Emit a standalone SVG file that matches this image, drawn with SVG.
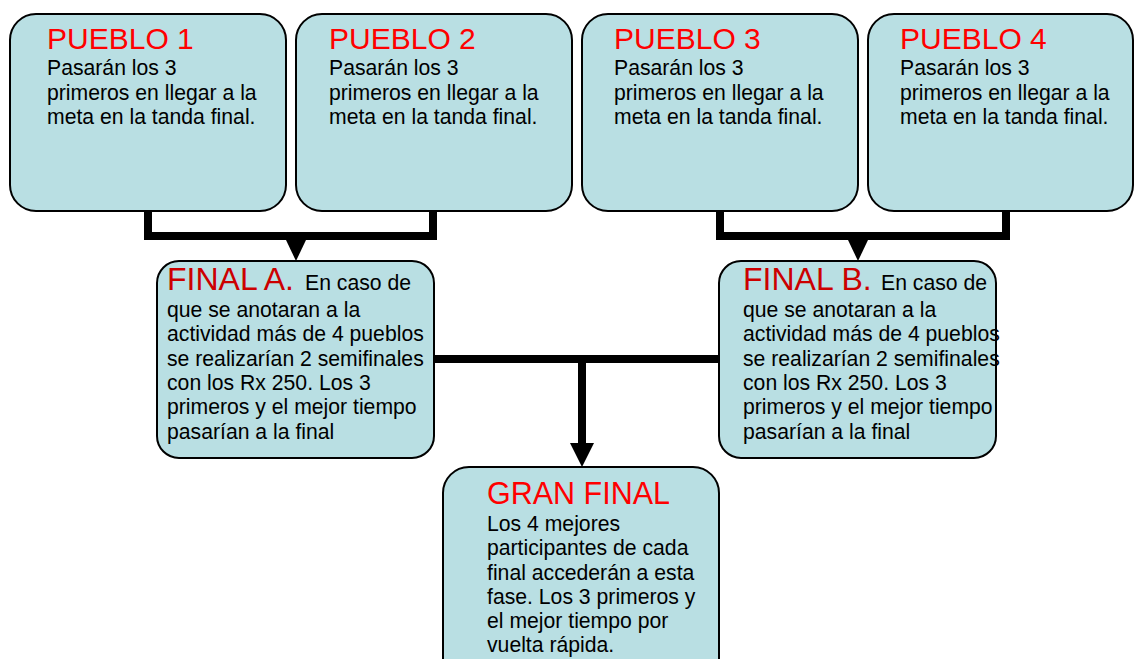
<svg xmlns="http://www.w3.org/2000/svg" width="1134" height="659" viewBox="0 0 1134 659">
<style>
.box{fill:#b9dfe3;stroke:#000;stroke-width:2}
.t{font-family:"Liberation Sans",Arial,sans-serif;fill:#000;font-size:21.2px}
.h{font-family:"Liberation Sans",Arial,sans-serif;fill:#ff0000;font-size:30px}
.g{font-size:30.5px}
.hd{font-family:"Liberation Sans",Arial,sans-serif;fill:#cc0000;font-size:32px}
.c{fill:none;stroke:#000;stroke-width:8}
</style>
<rect width="1134" height="659" fill="#fff"/>
<g id="connectors">
<polyline class="c" points="148,211 148,236 433,236 433,211"/>
<polygon points="286,240 306,240 296,261" fill="#000"/>
<polyline class="c" points="720,211 720,236 1006,236 1006,211"/>
<polygon points="848,240 868,240 858,261" fill="#000"/>
<line class="c" x1="434" y1="359" x2="719" y2="359"/>
<line class="c" x1="582" y1="359" x2="582" y2="444"/>
<polygon points="570,443 594,443 582,467" fill="#000"/>
</g>
<g id="pueblo1">
<rect class="box" x="10" y="14" width="276" height="197" rx="26"/>
<text class="h" x="47" y="49">PUEBLO 1</text>
<text class="t" x="47" y="75">Pasarán los 3</text>
<text class="t" x="47" y="100">primeros en llegar a la</text>
<text class="t" x="47" y="124">meta en la tanda final.</text>
</g>
<g id="pueblo2">
<rect class="box" x="296" y="14" width="276" height="197" rx="26"/>
<text class="h" x="329" y="49">PUEBLO 2</text>
<text class="t" x="329" y="75">Pasarán los 3</text>
<text class="t" x="329" y="100">primeros en llegar a la</text>
<text class="t" x="329" y="124">meta en la tanda final.</text>
</g>
<g id="pueblo3">
<rect class="box" x="582" y="14" width="276" height="197" rx="26"/>
<text class="h" x="614" y="49">PUEBLO 3</text>
<text class="t" x="614" y="75">Pasarán los 3</text>
<text class="t" x="614" y="100">primeros en llegar a la</text>
<text class="t" x="614" y="124">meta en la tanda final.</text>
</g>
<g id="pueblo4">
<rect class="box" x="868" y="14" width="265" height="197" rx="26"/>
<text class="h" x="900" y="49">PUEBLO 4</text>
<text class="t" x="900" y="75">Pasarán los 3</text>
<text class="t" x="900" y="100">primeros en llegar a la</text>
<text class="t" x="900" y="124">meta en la tanda final.</text>
</g>
<g id="finalA">
<rect class="box" x="157" y="261" width="277" height="197" rx="22"/>
<text class="hd" x="167" y="290">FINAL A.</text>
<text class="t" x="305" y="290">En caso de</text>
<text class="t" x="167" y="317">que se anotaran a la</text>
<text class="t" x="167" y="341">actividad más de 4 pueblos</text>
<text class="t" x="167" y="366">se realizarían 2 semifinales</text>
<text class="t" x="167" y="390">con los Rx 250. Los 3</text>
<text class="t" x="167" y="414">primeros y el mejor tiempo</text>
<text class="t" x="167" y="439">pasarían a la final</text>
</g>
<g id="finalB">
<rect class="box" x="719" y="261" width="277" height="197" rx="22"/>
<text class="hd" x="743" y="290">FINAL B.</text>
<text class="t" x="881" y="290">En caso de</text>
<text class="t" x="743" y="317">que se anotaran a la</text>
<text class="t" x="743" y="341">actividad más de 4 pueblos</text>
<text class="t" x="743" y="366">se realizarían 2 semifinales</text>
<text class="t" x="743" y="390">con los Rx 250. Los 3</text>
<text class="t" x="743" y="414">primeros y el mejor tiempo</text>
<text class="t" x="743" y="439">pasarían a la final</text>
</g>
<g id="granFinal">
<rect class="box" x="443" y="467" width="276" height="220" rx="26"/>
<text class="h g" x="487" y="504">GRAN FINAL</text>
<text class="t" x="487" y="531">Los 4 mejores</text>
<text class="t" x="487" y="555">participantes de cada</text>
<text class="t" x="487" y="580">final accederán a esta</text>
<text class="t" x="487" y="604">fase. Los 3 primeros y</text>
<text class="t" x="487" y="628">el mejor tiempo por</text>
<text class="t" x="487" y="652">vuelta rápida.</text>
</g>
</svg>
